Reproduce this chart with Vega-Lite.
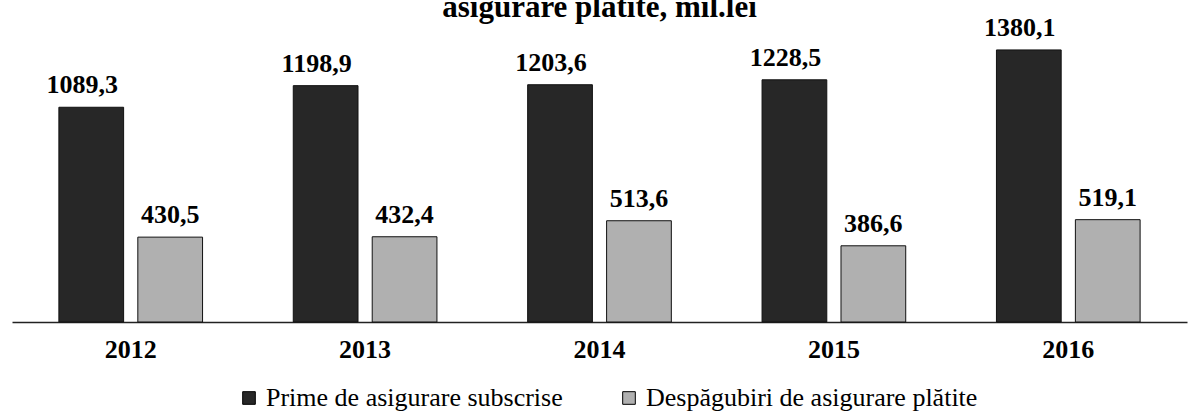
{
  "$schema": "https://vega.github.io/schema/vega-lite/v6.json",
  "width": 1175,
  "height": 276,
  "autosize": {"type": "none"},
  "padding": {"left": 12, "top": 46, "right": 7, "bottom": 92},
  "background": "white",
  "title": {
    "text": "asigurare plătite, mil.lei",
    "font": "Liberation Serif",
    "fontSize": 31,
    "fontWeight": "bold",
    "color": "#000",
    "anchor": "middle",
    "baseline": "alphabetic",
    "offset": 0,
    "dy": 33
  },
  "data": {
    "values": [
      {"year": "2012", "series": "Prime de asigurare subscrise", "value": 1089.3, "label": "1089,3"},
      {"year": "2012", "series": "Despăgubiri de asigurare plătite", "value": 430.5, "label": "430,5"},
      {"year": "2013", "series": "Prime de asigurare subscrise", "value": 1198.9, "label": "1198,9"},
      {"year": "2013", "series": "Despăgubiri de asigurare plătite", "value": 432.4, "label": "432,4"},
      {"year": "2014", "series": "Prime de asigurare subscrise", "value": 1203.6, "label": "1203,6"},
      {"year": "2014", "series": "Despăgubiri de asigurare plătite", "value": 513.6, "label": "513,6"},
      {"year": "2015", "series": "Prime de asigurare subscrise", "value": 1228.5, "label": "1228,5"},
      {"year": "2015", "series": "Despăgubiri de asigurare plătite", "value": 386.6, "label": "386,6"},
      {"year": "2016", "series": "Prime de asigurare subscrise", "value": 1380.1, "label": "1380,1"},
      {"year": "2016", "series": "Despăgubiri de asigurare plătite", "value": 519.1, "label": "519,1"}
    ]
  },
  "encoding": {
    "x": {
      "field": "year",
      "type": "nominal",
      "scale": {"paddingInner": 0.387, "paddingOuter": 0.2},
      "axis": {
        "title": null,
        "labelAngle": 0,
        "labelFont": "Liberation Serif",
        "labelFontSize": 26,
        "labelFontWeight": "bold",
        "labelColor": "#000",
        "labelPadding": 14,
        "ticks": false,
        "domainColor": "#222",
        "domainWidth": 1.5
      }
    },
    "xOffset": {
      "field": "series",
      "type": "nominal",
      "sort": ["Prime de asigurare subscrise", "Despăgubiri de asigurare plătite"],
      "scale": {"paddingInner": 0.18, "paddingOuter": 0}
    },
    "y": {
      "field": "value",
      "type": "quantitative",
      "scale": {"domain": [0, 1400], "nice": false},
      "axis": null
    }
  },
  "layer": [
    {
      "mark": {"type": "bar", "stroke": "#111", "strokeWidth": 1},
      "encoding": {
        "color": {
          "field": "series",
          "type": "nominal",
          "sort": ["Prime de asigurare subscrise", "Despăgubiri de asigurare plătite"],
          "scale": {"range": ["#272727", "#b0b0b0"]},
          "legend": {
            "title": null,
            "orient": "none",
            "legendX": 224,
            "legendY": 339,
            "direction": "horizontal",
            "symbolType": "square",
            "symbolSize": 160,
            "symbolStrokeColor": "#000",
            "symbolStrokeWidth": 1,
            "labelFont": "Liberation Serif",
            "labelFontSize": 26,
            "labelColor": "#000",
            "labelOffset": 4,
            "columnPadding": 53,
            "labelLimit": 500
          }
        }
      }
    },
    {
      "transform": [{"filter": "datum.series === 'Prime de asigurare subscrise'"}],
      "mark": {
        "type": "text",
        "font": "Liberation Serif",
        "fontSize": 26,
        "fontWeight": "bold",
        "color": "#000",
        "baseline": "alphabetic",
        "dy": -14,
        "dx": -9
      },
      "encoding": {
        "text": {"field": "label"}
      }
    },
    {
      "transform": [{"filter": "datum.series !== 'Prime de asigurare subscrise'"}],
      "mark": {
        "type": "text",
        "font": "Liberation Serif",
        "fontSize": 26,
        "fontWeight": "bold",
        "color": "#000",
        "baseline": "alphabetic",
        "dy": -14
      },
      "encoding": {
        "text": {"field": "label"}
      }
    }
  ],
  "config": {
    "view": {"stroke": null},
    "axis": {"grid": false},
    "legend": {"labelFont": "Liberation Serif"}
  }
}
